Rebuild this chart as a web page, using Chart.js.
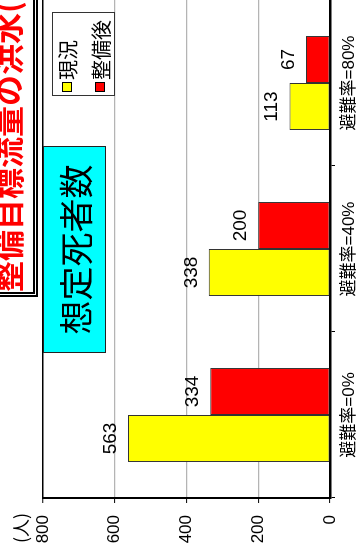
<!DOCTYPE html>
<html>
<head>
<meta charset="utf-8">
<script src="https://cdn.jsdelivr.net/npm/chart.js@4.4.1/dist/chart.umd.min.js"></script>
<style>
  html, body { margin: 0; padding: 0; background: #fff; overflow: hidden; }
  body { width: 362px; height: 555px; position: relative; }
  #stage {
    position: absolute; left: 0; top: 0;
    width: 555px; height: 362px;
    transform-origin: 0 0;
    transform: translateY(555px) rotate(-90deg);
    overflow: hidden; background: #fff;
    font-family: "Liberation Sans", "Noto Sans CJK JP", sans-serif;
  }
  #chart { position: absolute; left: 0; top: 0; }
  #titlebox {
    position: absolute; left: 258px; top: -10px; width: 330px; height: 43px;
    border-left: 5px double #000; border-bottom: 5px double #000;
    overflow: hidden;
  }
  #titletext {
    position: absolute; left: 0px; top: 1px; white-space: nowrap;
    font: bold 31px/31px "Noto Sans CJK JP", sans-serif; color: #ff0000;
  }
  #unit {
    position: absolute; left: 12px; top: 10px; font-size: 18px; line-height: 20px; color: #000;
    font-family: "Noto Sans CJK JP", sans-serif;
  }
  #textbox {
    position: absolute; left: 202px; top: 43px; width: 205px; height: 61px;
    background: #00ffff; border: 1.5px solid #222;
    display: flex; align-items: center; justify-content: center;
    font: 34px "Noto Sans CJK JP", sans-serif; color: #000;
  }
  #legend {
    position: absolute; left: 459px; top: 52px; width: 82px; height: 61px;
    border: 1px solid #333; background: #fff;
  }
  .lrow { position: absolute; left: 3px; height: 24px; display: flex; align-items: center;
    font: 20px "Noto Sans CJK JP", sans-serif; color: #000; white-space: nowrap; }
  .sw { width: 8px; height: 8px; border: 1px solid #000; margin-right: 2px; }
</style>
</head>
<body>
<div id="stage">
  <canvas id="chart" width="555" height="362"></canvas>
  <div id="titlebox"><span id="titletext">整備目標流量の洪水(</span></div>
  <div id="unit">(人)</div>
  <div id="textbox">想定死者数</div>
  <div id="legend"></div>
</div>
<script>
const categories = ['避難率=0%', '避難率=40%', '避難率=80%'];
const seriesNames = ['現況', '整備後'];
const currentValues = [563, 338, 113];
const improvedValues = [334, 200, 67];
const valueTicks = [0, 200, 400, 600, 800];
const seriesColors = ['#ffff00', '#ff0000'];

// HTML legend
const legend = document.getElementById('legend');
seriesNames.forEach((name, i) => {
  const row = document.createElement('div');
  row.className = 'lrow';
  row.style.top = (i === 0 ? 2 : 35) + 'px';
  const sw = document.createElement('div');
  sw.className = 'sw';
  sw.style.background = seriesColors[i];
  row.appendChild(sw);
  const t = document.createElement('span');
  t.textContent = name;
  row.appendChild(t);
  legend.appendChild(row);
});

const valueLabels = {
  id: 'valueLabels',
  afterDatasetsDraw(chart) {
    const ctx = chart.ctx;
    ctx.save();
    ctx.font = '19px "Liberation Sans", "Noto Sans CJK JP", sans-serif';
    ctx.fillStyle = '#000';
    ctx.textAlign = 'center';
    ctx.textBaseline = 'alphabetic';
    chart.data.datasets.forEach((ds, di) => {
      chart.getDatasetMeta(di).data.forEach((bar, i) => {
        ctx.fillText(String(ds.data[i]), bar.x, bar.y - 12);
      });
    });
    ctx.restore();
  }
};

Chart.defaults.font.family = '"Liberation Sans", "Noto Sans CJK JP", sans-serif';
Chart.defaults.color = '#000';

new Chart(document.getElementById('chart'), {
  type: 'bar',
  data: {
    labels: categories,
    datasets: [
      { label: seriesNames[0], data: currentValues, backgroundColor: seriesColors[0],
        borderColor: '#333', borderWidth: 1, borderSkipped: false },
      { label: seriesNames[1], data: improvedValues, backgroundColor: seriesColors[1],
        borderColor: '#333', borderWidth: 1, borderSkipped: false }
    ]
  },
  options: {
    responsive: false,
    animation: false,
    layout: { padding: { top: 43, right: 0, left: 0, bottom: 0 } },
    plugins: { legend: { display: false }, tooltip: { enabled: false } },
    datasets: { bar: { categoryPercentage: 0.566, barPercentage: 1.0 } },
    scales: {
      x: {
        grid: { drawOnChartArea: false, drawTicks: true, tickLength: 5, tickColor: '#000', tickWidth: 1, offset: true },
        border: { color: '#000', width: 2.5 },
        ticks: { font: { size: 17 }, color: '#000', padding: 4, maxRotation: 0, autoSkip: false },
        afterFit(scale) { scale.height = 32; }
      },
      y: {
        min: 0, max: 800,
        afterBuildTicks(scale) { scale.ticks = valueTicks.map(v => ({ value: v })); },
        grid: {
          color: c => (c.tick && c.tick.value === 800) ? '#000' : '#b4b4b4',
          lineWidth: c => (c.tick && c.tick.value === 800) ? 1.5 : 1.2,
          tickLength: 5, tickColor: '#000', tickWidth: 1
        },
        border: { color: '#000', width: 2 },
        ticks: { font: { size: 17 }, color: '#000', padding: 12 },
        afterFit(scale) { scale.width = 57; }
      }
    }
  },
  plugins: [valueLabels]
});
</script>
</body>
</html>
